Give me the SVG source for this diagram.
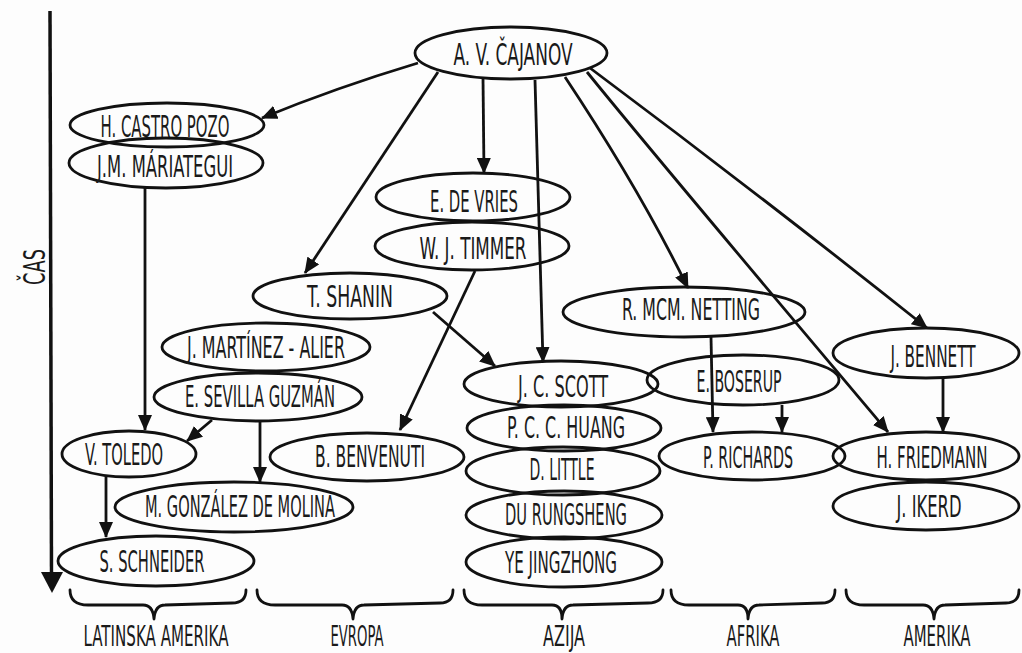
<svg xmlns="http://www.w3.org/2000/svg" width="1022" height="653" viewBox="0 0 1022 653">
<style>
.n{fill:none;stroke:#111;stroke-width:2.8}
.t{font-family:"DejaVu Sans Condensed","Liberation Sans",sans-serif;font-size:31px;fill:#1a1a1a;text-anchor:middle}
.r{font-family:"DejaVu Sans Condensed","Liberation Sans",sans-serif;font-size:28px;fill:#1a1a1a;text-anchor:middle}
.e{fill:none;stroke:#111;stroke-width:2.8;marker-end:url(#ah)}
.b{fill:none;stroke:#111;stroke-width:2.8;stroke-linecap:round;stroke-linejoin:round}
</style>
<defs>
<marker id="ah" viewBox="0 0 16 14" refX="15" refY="7" markerWidth="16" markerHeight="14" markerUnits="userSpaceOnUse" orient="auto">
<path d="M0,0 L16,7 L0,14 z" fill="#111"/>
</marker>
</defs>
<rect width="1022" height="653" fill="#fdfdfd"/>

<g id="time-axis">
<line x1="50" y1="11" x2="51.5" y2="578" stroke="#111" stroke-width="3.5"/>
<path d="M41,572 L63,572 L52,593 z" fill="#111"/>
<text class="t" transform="translate(45,267) rotate(-90)" textLength="36" lengthAdjust="spacingAndGlyphs">ČAS</text>
</g>

<g id="connectors">
<path class="e" d="M418,63 Q335,88 262,118"/>
<path class="e" d="M438,72 L305,273"/>
<path class="e" d="M483,78 L484,173"/>
<path class="e" d="M535,80 L543,362"/>
<path class="e" d="M565,77 Q640,190 688,288"/>
<path class="e" d="M587,72 C650,150 760,280 888,432"/>
<path class="e" d="M590,68 Q760,195 927,328"/>
<path class="e" d="M145,188 L145,430"/>
<path class="e" d="M212,420 L187,441"/>
<path class="e" d="M260,422 L260,482"/>
<path class="e" d="M106,477 L106,537"/>
<path class="e" d="M475,271 L400,430"/>
<path class="e" d="M433,312 L495,366"/>
<path class="e" d="M711,337 L713,432"/>
<path class="e" d="M782,405 L782,432"/>
<path class="e" d="M943,378 L943,432"/>
</g>

<g id="cajanov"><ellipse class="n" cx="511" cy="53" rx="96" ry="26"/><text class="t" x="513" y="65" textLength="119" lengthAdjust="spacingAndGlyphs">A. V. ČAJANOV</text></g>
<g id="castro-pozo"><ellipse class="n" cx="167" cy="125" rx="97" ry="22"/><text class="t" x="165" y="137" textLength="129" lengthAdjust="spacingAndGlyphs">H. CASTRO POZO</text></g>
<g id="mariategui"><ellipse class="n" cx="166" cy="163" rx="97" ry="25"/><text class="t" x="165" y="177" textLength="136" lengthAdjust="spacingAndGlyphs">J.M. MÁRIATEGUI</text></g>
<g id="de-vries"><ellipse class="n" cx="473" cy="197" rx="97" ry="24"/><text class="t" x="474" y="212" textLength="88" lengthAdjust="spacingAndGlyphs">E. DE VRIES</text></g>
<g id="timmer"><ellipse class="n" cx="472" cy="246" rx="97" ry="24"/><text class="t" x="473" y="259" textLength="107" lengthAdjust="spacingAndGlyphs">W. J. TIMMER</text></g>
<g id="shanin"><ellipse class="n" cx="350" cy="296" rx="97" ry="23"/><text class="t" x="350" y="307" textLength="86" lengthAdjust="spacingAndGlyphs">T. SHANIN</text></g>
<g id="martinez-alier"><ellipse class="n" cx="266" cy="347" rx="104" ry="24"/><text class="t" x="266" y="358" textLength="158" lengthAdjust="spacingAndGlyphs">J. MARTÍNEZ - ALIER</text></g>
<g id="sevilla-guzman"><ellipse class="n" cx="258" cy="397" rx="104" ry="24"/><text class="t" x="260" y="407" textLength="150" lengthAdjust="spacingAndGlyphs">E. SEVILLA GUZMÁN</text></g>
<g id="toledo"><ellipse class="n" cx="129" cy="454" rx="67" ry="23"/><text class="t" x="124" y="465" textLength="78" lengthAdjust="spacingAndGlyphs">V. TOLEDO</text></g>
<g id="benvenuti"><ellipse class="n" cx="367" cy="457" rx="97" ry="24"/><text class="t" x="370" y="467" textLength="110" lengthAdjust="spacingAndGlyphs">B. BENVENUTI</text></g>
<g id="gonzalez-de-molina"><ellipse class="n" cx="234" cy="507" rx="119" ry="25"/><text class="t" x="240" y="517" textLength="190" lengthAdjust="spacingAndGlyphs">M. GONZÁLEZ DE MOLINA</text></g>
<g id="schneider"><ellipse class="n" cx="156" cy="561" rx="98" ry="25"/><text class="t" x="152" y="572" textLength="105" lengthAdjust="spacingAndGlyphs">S. SCHNEIDER</text></g>
<g id="scott"><ellipse class="n" cx="561" cy="384" rx="97" ry="23"/><text class="t" x="563" y="397" textLength="90" lengthAdjust="spacingAndGlyphs">J. C. SCOTT</text></g>
<g id="huang"><ellipse class="n" cx="564" cy="428" rx="97" ry="23"/><text class="t" x="566" y="438" textLength="118" lengthAdjust="spacingAndGlyphs">P. C. C. HUANG</text></g>
<g id="little"><ellipse class="n" cx="563" cy="471" rx="97" ry="24"/><text class="t" x="562" y="480" textLength="65" lengthAdjust="spacingAndGlyphs">D. LITTLE</text></g>
<g id="du-rungsheng"><ellipse class="n" cx="564" cy="515" rx="98" ry="24"/><text class="t" x="566" y="525" textLength="122" lengthAdjust="spacingAndGlyphs">DU RUNGSHENG</text></g>
<g id="ye-jingzhong"><ellipse class="n" cx="564" cy="562" rx="98" ry="25"/><text class="t" x="561" y="573" textLength="112" lengthAdjust="spacingAndGlyphs">YE JINGZHONG</text></g>
<g id="netting"><ellipse class="n" cx="684" cy="312" rx="121" ry="25"/><text class="t" x="691" y="320" textLength="138" lengthAdjust="spacingAndGlyphs">R. MCM. NETTING</text></g>
<g id="boserup"><ellipse class="n" cx="743" cy="380" rx="96" ry="25"/><text class="t" x="739" y="392" textLength="85" lengthAdjust="spacingAndGlyphs">E. BOSERUP</text></g>
<g id="richards"><ellipse class="n" cx="752" cy="456" rx="93" ry="24"/><text class="t" x="748" y="468" textLength="90" lengthAdjust="spacingAndGlyphs">P. RICHARDS</text></g>
<g id="bennett"><ellipse class="n" cx="926" cy="353" rx="93" ry="25"/><text class="t" transform="translate(933,367) scale(0.6,1)" x="0" y="0" textLength="142" lengthAdjust="spacingAndGlyphs">J. BENNETT</text></g>
<g id="friedmann"><ellipse class="n" cx="926" cy="456" rx="93" ry="24"/><text class="t" transform="translate(932,468) scale(0.6,1)" x="0" y="0" textLength="185" lengthAdjust="spacingAndGlyphs">H. FRIEDMANN</text></g>
<g id="ikerd"><ellipse class="n" cx="926" cy="506" rx="93" ry="24"/><text class="t" x="929" y="517" textLength="65" lengthAdjust="spacingAndGlyphs">J. IKERD</text></g>

<g id="regions">
<path class="b" d="M70,590 Q70,605 88,605 L143,605 Q153,605 154,619 Q155,605 165,605 L232,603 Q246,603 246,590"/>
<path class="b" d="M257,590 Q257,605 275,605 L342,605 Q352,605 353,619 Q354,605 364,605 L440,603 Q453,603 453,590"/>
<path class="b" d="M464,590 Q464,605 482,605 L552,605 Q562,605 562,619 Q563,605 573,605 L648,603 Q663,603 663,590"/>
<path class="b" d="M671,590 Q671,605 689,605 L738,605 Q748,605 748,619 Q749,605 759,605 L822,603 Q835,603 835,590"/>
<path class="b" d="M846,590 Q846,605 864,605 L923,605 Q933,605 934,619 Q935,605 945,605 L1006,603 Q1019,603 1019,590"/>
<text class="r" x="156" y="646" textLength="145" lengthAdjust="spacingAndGlyphs">LATINSKA AMERIKA</text>
<text class="r" x="357" y="646" textLength="53" lengthAdjust="spacingAndGlyphs">EVROPA</text>
<text class="r" x="564" y="646" textLength="42" lengthAdjust="spacingAndGlyphs">AZIJA</text>
<text class="r" x="753" y="646" textLength="53" lengthAdjust="spacingAndGlyphs">AFRIKA</text>
<text class="r" x="937" y="646" textLength="67" lengthAdjust="spacingAndGlyphs">AMERIKA</text>
</g>
</svg>
